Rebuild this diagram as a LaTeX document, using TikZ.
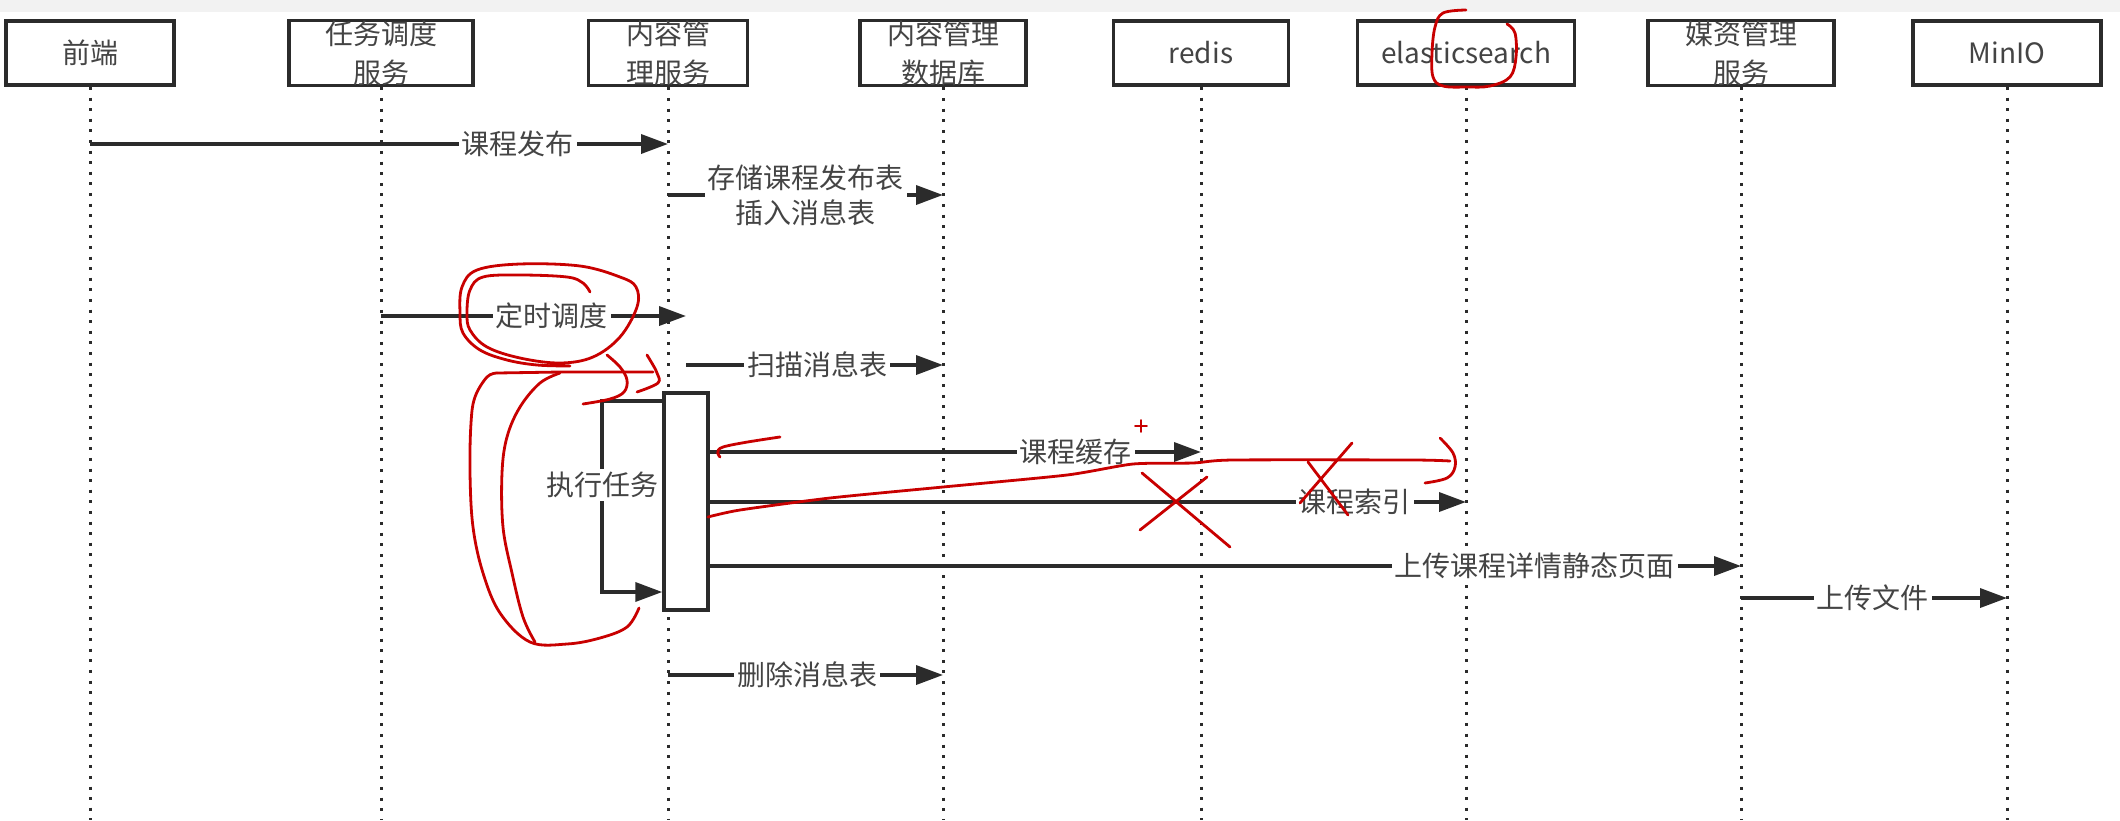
\documentclass[tikz,border=0pt]{standalone}
\usepackage{fontspec}
\newfontfamily\cjk{Noto Sans CJK SC}
\usetikzlibrary{arrows.meta}

\begin{document}
\begin{tikzpicture}[x=0.5pt, y=-0.5pt,
    actor/.style={draw=lineC, line width=1.9pt, fill=white, minimum height=32pt, inner sep=0pt,
        align=center, text=txtC, font=\cjk\fontsize{14}{19.5}\selectfont},
    lifeline/.style={draw=lineC, line width=1.5pt, dash pattern=on 1.5pt off 3.8pt},
    msg/.style={draw=lineC, line width=1.8pt, -{Triangle[length=13.5pt, width=9.5pt]}},
    lbl/.style={fill=white, inner sep=1.5pt, align=center, text=txtC, font=\cjk\fontsize{14}{17.5}\selectfont},
    actbox/.style={draw=lineC, line width=1.7pt, fill=white, minimum width=22pt, minimum height=108.5pt, inner sep=0pt},
    redmark/.style={draw=redC, line width=1.4pt, line cap=round, line join=round}]
    \definecolor{lineC}{HTML}{2B2B2B}
    \definecolor{txtC}{HTML}{444444}
    \definecolor{redC}{HTML}{C80000}
    \definecolor{bandC}{HTML}{F2F2F2}

    \useasboundingbox (0,0) rectangle (2120,820);
    \fill[bandC] (0,0) rectangle (2120,12);

    % Participants
    \foreach \name/\x/\w/\txt in {fe/90/168/前端, ts/381/184/{任务调度\\服务}, cms/668/159/{内容管\\理服务},
        db/943/166/{内容管理\\数据库}, rd/1201/175/redis, es/1466/217/elasticsearch,
        ms/1741/186/{媒资管理\\服务}, mio/2007/188/MinIO} {
        \node[actor, minimum width=\w*0.5pt] (\name) at (\x,53) {\txt};
    }

    % Lifelines
    \foreach \name in {fe, ts, cms, db, rd, es, ms, mio} {
        \draw[lifeline] (\name.south) -- (\name.south |- 0,820);
    }

    % Activation of the content service
    \node[actbox] (act) at (686,501.5) {};
    \coordinate (selfT) at (602,401);
    \coordinate (selfB) at (602,592);

    % Messages
    \draw[msg] (fe.south |- 0,144) -- node[lbl, pos=.74] (m1) {课程发布} (cms.south |- 0,144);
    \draw[msg] (cms.south |- 0,195) -- node[lbl, pos=.5] (m2) {存储课程发布表\\插入消息表} (db.south |- 0,195);
    \draw[msg] (ts.south |- 0,316) -- node[lbl, pos=.56] (m3) {定时调度} (act.north |- 0,316);
    \draw[msg] (act.north |- 0,365) -- node[lbl, pos=.51] (m4) {扫描消息表} (db.south |- 0,365);
    \draw[msg] (act.west |- selfT) -- (selfT) -- node[lbl, pos=.44] (m5) {执行任务} (selfB) -- (act.west |- selfB);
    \draw[msg] (act.east |- 0,452) -- node[lbl, pos=.745] (m6) {课程缓存} (rd.south |- 0,452);
    \draw[msg] (act.east |- 0,502) -- node[lbl, pos=.853] (m7) {课程索引} (es.south |- 0,502);
    \draw[msg] (act.east |- 0,566) -- node[lbl, pos=.80] (m8) {上传课程详情静态页面} (ms.south |- 0,566);
    \draw[msg] (ms.south |- 0,598) -- node[lbl, pos=.496] (m9) {上传文件} (mio.south |- 0,598);
    \draw[msg] (cms.south |- 0,675) -- node[lbl, pos=.507] (m10) {删除消息表} (db.south |- 0,675);

    % Hand-drawn red marks
    \draw[redmark] plot[smooth, tension=.6] coordinates {(1466,10) (1443,13) (1435,27) (1432,53) (1433,77)
        (1443,86) (1467,87) (1490,86) (1510,77) (1516,57) (1515,33) (1507,24)};
    \draw[redmark] plot[smooth, tension=.6] coordinates {(590,292) (583,283) (567,277) (520,275) (483,277)
        (470,290) (467,313) (470,330) (487,347) (520,358) (560,363) (593,357) (620,337) (637,307)
        (636,287) (620,277) (580,266) (520,264) (477,270) (462,287) (460,313) (463,333) (480,350)
        (507,360) (537,365) (570,366)};
    \draw[redmark] plot[smooth, tension=.6] coordinates {(607,355) (620,367) (627,380) (624,392) (610,399) (583,404)};
    \draw[redmark] (497,373) -- (560,372) -- (653,372);
    \draw[redmark] plot[smooth, tension=.6] coordinates {(647,355) (653,365) (657,373) (658,383) (637,392)};
    \draw[redmark] plot[smooth, tension=.6] coordinates {(497,373) (487,377) (475,397) (471,423) (470,473)
        (473,527) (483,573) (500,613) (530,642) (567,644) (600,638) (627,627) (639,608)};
    \draw[redmark] plot[smooth, tension=.6] coordinates {(560,373) (540,383) (520,407) (507,437) (502,473)
        (503,527) (512,573) (523,617) (535,642)};
    \draw[redmark] plot[smooth, tension=.6] coordinates {(720,457) (723,447) (780,437)};
    \draw[redmark] plot[smooth, tension=.4] coordinates {(708,517) (740,510) (830,498) (943,487) (1067,475)
        (1133,464) (1193,463) (1233,460) (1413,460) (1450,461)};
    \draw[redmark] plot[smooth, tension=.6] coordinates {(1440,438) (1453,453) (1455,467) (1447,478) (1425,483)};
    \draw[redmark] (1142,473) -- (1230,547) (1207,477) -- (1140,530);
    \draw[redmark] (1352,443) -- (1300,503) (1308,462) -- (1348,515);
    \draw[redmark, line width=.8pt] (1135,426) -- (1147,426) (1141,420) -- (1141,432);
\end{tikzpicture}
\end{document}
